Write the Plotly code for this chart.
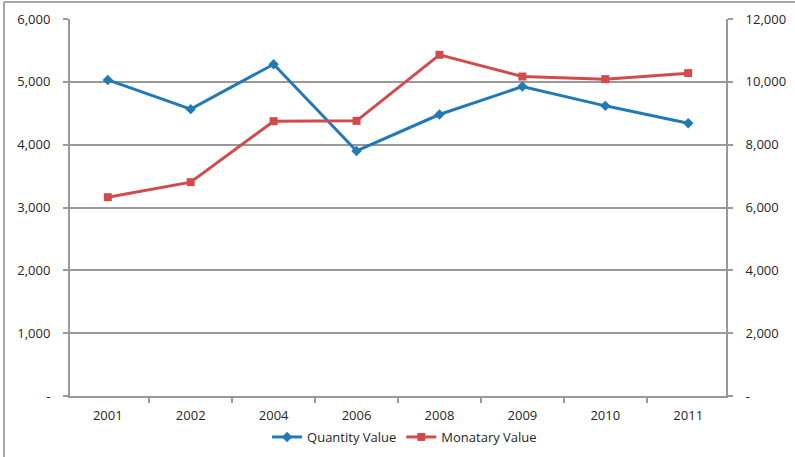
import plotly.graph_objects as go

years = ["2001", "2002", "2004", "2006", "2008", "2009", "2010", "2011"]
quantity = [5030, 4565, 5280, 3900, 4480, 4925, 4618, 4342]
monetary = [6328, 6806, 8748, 8758, 10860, 10169, 10086, 10277]

left_ticks = [0, 1000, 2000, 3000, 4000, 5000, 6000]
left_text = ["-", "1,000", "2,000", "3,000", "4,000", "5,000", "6,000"]
right_ticks = [0, 2000, 4000, 6000, 8000, 10000, 12000]
right_text = ["-", "2,000", "4,000", "6,000", "8,000", "10,000", "12,000"]

W, H = 795, 457
L, R, T, B = 70, 69, 19, 61
pw, ph = W - L - R, H - T - B

fig = go.Figure()
fig.add_trace(go.Scatter(
    x=years, y=quantity, name="Quantity Value", mode="lines+markers",
    line=dict(color="#2179B5", width=3),
    marker=dict(symbol="diamond", size=8, color="#2179B5"),
    yaxis="y"))
fig.add_trace(go.Scatter(
    x=years, y=monetary, name="Monatary Value", mode="lines+markers",
    line=dict(color="#D24B4B", width=3),
    marker=dict(symbol="square", size=8, color="#D24B4B"),
    yaxis="y2"))

font = dict(family="Open Sans, Liberation Sans, sans-serif", size=13, color="#262626")
grid = "#999999"

fig.update_layout(
    width=W, height=H,
    margin=dict(l=L, r=R, t=T, b=B, autoexpand=False),
    paper_bgcolor="white", plot_bgcolor="white",
    font=font,
    showlegend=True,
    legend=dict(orientation="h", x=0.51, xanchor="center",
                yref="container", y=(H - 437) / H, yanchor="middle",
                font=dict(size=13, color="#262626"), itemwidth=30),
    xaxis=dict(type="category", showgrid=False, showline=True, linecolor=grid, linewidth=2,
               ticks="outside", tickson="boundaries", ticklen=5, tickcolor=grid, tickwidth=2,
               ticklabelstandoff=6),
    yaxis=dict(range=[0, 6000], tickvals=left_ticks, ticktext=left_text,
               showgrid=True, gridcolor=grid, gridwidth=2, zeroline=False,
               showline=True, linecolor=grid, linewidth=2,
               ticks="outside", ticklen=5, tickcolor=grid, tickwidth=2, ticklabelstandoff=10),
    yaxis2=dict(range=[0, 12000], tickvals=right_ticks, ticktext=right_text,
                overlaying="y", side="right", showgrid=False, zeroline=False,
                showline=True, linecolor=grid, linewidth=2,
                ticks="outside", ticklen=5, tickcolor=grid, tickwidth=2, ticklabelstandoff=10),
)

# outer chart border (left and top edges visible)
bx = (4 - L) / pw
ty = 1 + (T - 2) / ph
by = -(B + 2) / ph
fig.add_shape(type="line", xref="paper", yref="paper",
              x0=bx, x1=bx, y0=by, y1=ty,
              line=dict(color="#8a8a8a", width=1.5))
fig.add_shape(type="line", xref="paper", yref="paper",
              x0=bx, x1=(W + 2 - L) / pw, y0=ty, y1=ty,
              line=dict(color="#8a8a8a", width=1.5))

fig.write_html("out.html")
